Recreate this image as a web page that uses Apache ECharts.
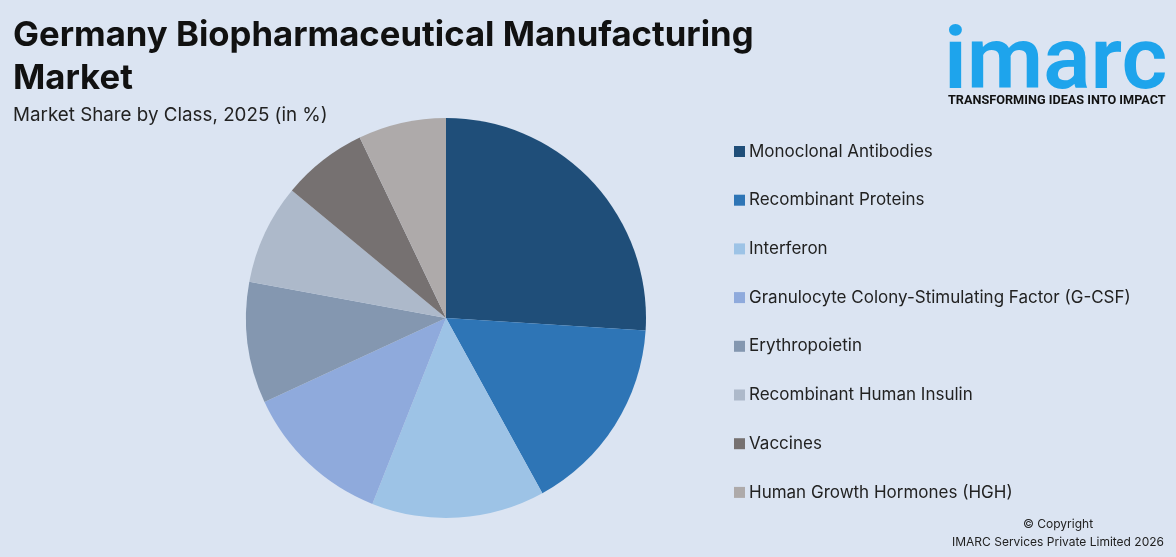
<!DOCTYPE html>
<html>
<head>
<meta charset="utf-8">
<script src="https://cdn.jsdelivr.net/npm/echarts@6/dist/echarts.min.js"></script>
<style>
  html, body { margin: 0; padding: 0; background: #dbe4f2; }
  #main { width: 1176px; height: 557px; }
</style>
</head>
<body>
<div id="main"></div>
<script>
// market share by class, 2025 (%)
var classes = [
  'Monoclonal Antibodies',
  'Recombinant Proteins',
  'Interferon',
  'Granulocyte Colony-Stimulating Factor (G-CSF)',
  'Erythropoietin',
  'Recombinant Human Insulin',
  'Vaccines',
  'Human Growth Hormones (HGH)'
];
var shares = [26.0, 16.0, 14.0, 12.1, 9.8, 8.1, 6.9, 7.1];
var colors = ['#1f4e79', '#2e75b6', '#9dc3e6', '#8faadc', '#8497b0', '#adb9ca', '#767171', '#aeaaaa'];

var myChart = echarts.init(document.getElementById('main'));

var option = {
  backgroundColor: '#dbe4f2',
  color: colors,
  legend: {
    orient: 'vertical',
    left: 729,
    top: 138,
    icon: 'rect',
    itemWidth: 11,
    itemHeight: 11,
    itemGap: 31.7,
    selectedMode: false,
    textStyle: { fontFamily: 'Inter', fontSize: 17, color: '#222', padding: [0, 0, 0, -1] },
    data: classes
  },
  graphic: [
    { type: 'text', left: 13, top: 18, style: { text: 'Germany Biopharmaceutical Manufacturing', font: 'bold 34.7px Inter', fill: '#111' } },
    { type: 'text', left: 13, top: 61, style: { text: 'Market', font: 'bold 34.7px Inter', fill: '#111' } },
    { type: 'text', left: 13, top: 106, style: { text: 'Market Share by Class, 2025 (in %)', font: '18.8px Inter', fill: '#222' } },
    { type: 'text', left: 944, top: 22, style: { text: 'imarc', font: '600 88px Roboto', fill: '#1ea4ec' } },
    { type: 'text', left: 948, top: 94, style: { text: 'TRANSFORMING IDEAS INTO IMPACT', font: 'bold 12.7px Roboto', fill: '#111' } },
    { type: 'text', x: 1058, y: 518, style: { text: '\u00a9 Copyright', font: '12px Inter', fill: '#222', textAlign: 'center' } },
    { type: 'text', x: 1058, y: 536, style: { text: 'IMARC Services Private Limited 2026', font: '12px Inter', fill: '#222', textAlign: 'center' } }
  ],
  series: [{
    type: 'pie',
    center: [446, 318],
    radius: [0, 200],
    startAngle: 90,
    clockwise: true,
    label: { show: false },
    labelLine: { show: false },
    silent: true,
    itemStyle: { borderWidth: 0 },
    data: classes.map(function (name, i) { return { name: name, value: shares[i] }; })
  }]
};
myChart.setOption(option);
</script>
</body>
</html>
